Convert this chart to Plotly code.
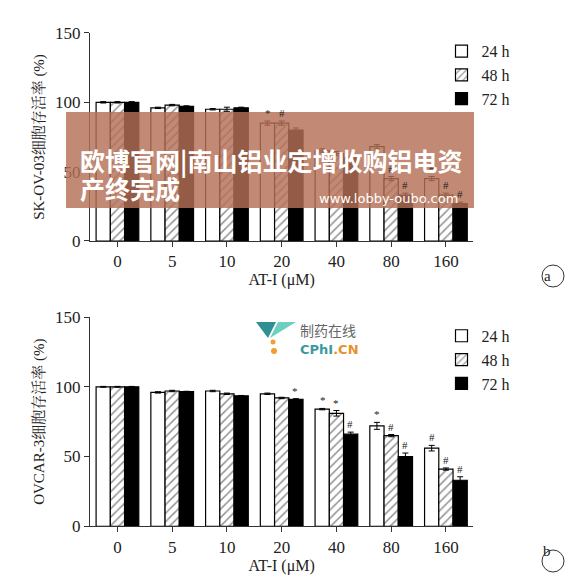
import plotly.graph_objects as go

doses = ["0", "5", "10", "20", "40", "80", "160"]
series = ["24 h", "48 h", "72 h"]
top_vals = [[100, 96, 95, 85, 65, 68, 45],
            [100, 98, 95, 85, 63, 45, 33],
            [100, 97, 96, 80, 60, 33, 27]]
top_err = [[0.5, 0.5, 0.5, 1.5, 1.5, 1.5, 1.5],
           [0.5, 0.5, 1.5, 1.5, 1.5, 1.5, 1.5],
           [0.5, 0.5, 0.5, 1.5, 1.0, 1.5, 1.0]]
top_sig = [["", "", "", "*", "", "", "#"],
           ["", "", "", "#", "", "#", "#"],
           ["", "", "", "", "", "#", "#"]]
bot_vals = [[100, 96, 97, 95, 84, 72, 56],
            [100, 97, 95, 92, 81, 65, 41],
            [100, 96.5, 93.5, 91, 66, 50, 33]]
bot_err = [[0.3, 0.5, 0.5, 0.5, 0.5, 2.5, 2.0],
           [0.3, 0.5, 0.5, 0.5, 2.0, 0.8, 0.8],
           [0.3, 0.3, 0.3, 0.5, 1.5, 2.5, 2.5]]
bot_sig = [["", "", "", "", "*", "*", "#"],
           ["", "", "", "", "*", "#", "#"],
           ["", "", "", "*", "#", "#", "#"]]

SERIF = "Liberation Serif, Noto Serif CJK SC, Noto Sans CJK SC, serif"
styles = [dict(color="white", pattern=None),
          dict(color="white", pattern=dict(shape="/", fgcolor="#222", bgcolor="white", size=6, solidity=0.25)),
          dict(color="black", pattern=None)]

fig = go.Figure()
offsets = [-0.25, 0, 0.25]
for panel, (vals, errs, sigs, ax, leg) in enumerate([
        (top_vals, top_err, top_sig, "", "legend"),
        (bot_vals, bot_err, bot_sig, "2", "legend2")]):
    for i in range(3):
        m = dict(color=styles[i]["color"], line=dict(color="black", width=1.2))
        if styles[i]["pattern"]:
            m["pattern"] = styles[i]["pattern"]
        fig.add_trace(go.Bar(
            x=doses, y=vals[i], name=series[i], marker=m,
            error_y=dict(type="data", array=errs[i], visible=True, color="black", thickness=1, width=3),
            xaxis="x" + ax, yaxis="y" + ax, legend=leg))
        for j, s in enumerate(sigs[i]):
            if s:
                fig.add_annotation(x=j + offsets[i], y=vals[i][j] + errs[i][j], text=s,
                                   xref="x" + ax, yref="y" + ax, showarrow=False, yanchor="bottom",
                                   font=dict(size=11, family=SERIF, color="#222"))

axis_common = dict(showline=True, linecolor="#333", linewidth=1.2, ticks="outside",
                   tickcolor="#333", showgrid=False, zeroline=False, automargin=False,
                   tickfont=dict(family=SERIF, size=17, color="#222"))
fig.update_layout(
    width=578, height=581, margin=dict(l=0, r=0, t=0, b=0, autoexpand=False),
    paper_bgcolor="white", plot_bgcolor="white",
    barmode="group", bargap=0.22, bargroupgap=0,
    showlegend=True,
    xaxis=dict(domain=[0.142, 0.805], anchor="y", **axis_common,
               title=dict(text="AT-I (μM)", font=dict(family=SERIF, size=16, color="#222"), standoff=2)),
    yaxis=dict(domain=[0.599, 0.957], anchor="x", range=[0, 150], tickvals=[0, 50, 100, 150], **axis_common,
               title=dict(text="SK-OV-03细胞存活率 (%)", font=dict(family=SERIF, size=15, color="#222"), standoff=6)),
    xaxis2=dict(domain=[0.142, 0.805], anchor="y2", **axis_common,
                title=dict(text="AT-I (μM)", font=dict(family=SERIF, size=16, color="#222"), standoff=2)),
    yaxis2=dict(domain=[0.108, 0.468], anchor="x2", range=[0, 150], tickvals=[0, 50, 100, 150], **axis_common,
                title=dict(text="OVCAR-3细胞存活率 (%)", font=dict(family=SERIF, size=15, color="#222"), standoff=6)),
    legend=dict(x=0.75, y=0.955, xanchor="left", yanchor="top", bgcolor="rgba(0,0,0,0)",
                font=dict(family=SERIF, size=16, color="#222"), tracegroupgap=2, itemwidth=30),
    legend2=dict(x=0.75, y=0.465, xanchor="left", yanchor="top", bgcolor="rgba(0,0,0,0)",
                 font=dict(family=SERIF, size=16, color="#222"), tracegroupgap=2, itemwidth=30),
)

# panel labels
for lab, yy in [("a", 268), ("b", 553)]:
    fig.add_shape(type="circle", xref="paper", yref="paper", x0=(545-11)/578, x1=(545+11)/578,
                  y0=1-(yy+11)/581, y1=1-(yy-11)/581, line=dict(color="#333", width=1))
    fig.add_annotation(x=545/578, y=1-yy/581, xref="paper", yref="paper", text=lab, showarrow=False,
                       font=dict(family=SERIF, size=15, color="#222"))

# banner overlay
fig.add_shape(type="rect", xref="paper", yref="paper", x0=58/578, x1=466/578, y0=1-200/581, y1=1-104/581,
              fillcolor="rgba(180,112,85,0.82)", line=dict(width=0), layer="above")
fig.add_annotation(x=70/578, y=1-132/581, xref="paper", yref="paper", xanchor="left", showarrow=False,
                   text="<b>欧博官网|南山铝业定增收购铝电资</b>", font=dict(family="Noto Sans CJK SC", size=25, color="white"))
fig.add_annotation(x=70/578, y=1-160/581, xref="paper", yref="paper", xanchor="left", showarrow=False,
                   text="<b>产终完成</b>", font=dict(family="Noto Sans CJK SC", size=25, color="white"))
fig.add_annotation(x=452/578, y=1-181/581, xref="paper", yref="paper", xanchor="right", showarrow=False,
                   text="www.lobby-oubo.com", font=dict(family="DejaVu Sans", size=13, color="white"))

# watermark
fig.add_annotation(x=290/578, y=1-322/581, xref="paper", yref="paper", xanchor="left", showarrow=False,
                   text="制药在线", font=dict(family="Noto Sans CJK SC", size=14, color="#666"))
fig.add_annotation(x=290/578, y=1-341/581, xref="paper", yref="paper", xanchor="left", showarrow=False,
                   text="<b><span style='color:#3a9aa0'>CPhI</span><span style='color:#e8902a'>.CN</span></b>",
                   font=dict(family="DejaVu Sans", size=13))
fig.add_shape(type="path", xref="paper", yref="paper", layer="above",
              path="M %f %f L %f %f L %f %f Z" % (248/578, 1-314/581, 268/578, 1-314/581, 260/578, 1-330/581),
              fillcolor="#2f8f93", line=dict(width=0))
fig.add_shape(type="path", xref="paper", yref="paper", layer="above",
              path="M %f %f L %f %f L %f %f Z" % (270/578, 1-314/581, 288/578, 1-314/581, 262/578, 1-330/581),
              fillcolor="#6cd0c0", line=dict(width=0))
for cx, cy, r in [(265, 334, 2.5), (266, 343, 3)]:
    fig.add_shape(type="circle", xref="paper", yref="paper", x0=(cx-r)/578, x1=(cx+r)/578,
                  y0=1-(cy+r)/581, y1=1-(cy-r)/581, fillcolor="#f0a030", line=dict(width=0))

fig.write_html("out.html")
